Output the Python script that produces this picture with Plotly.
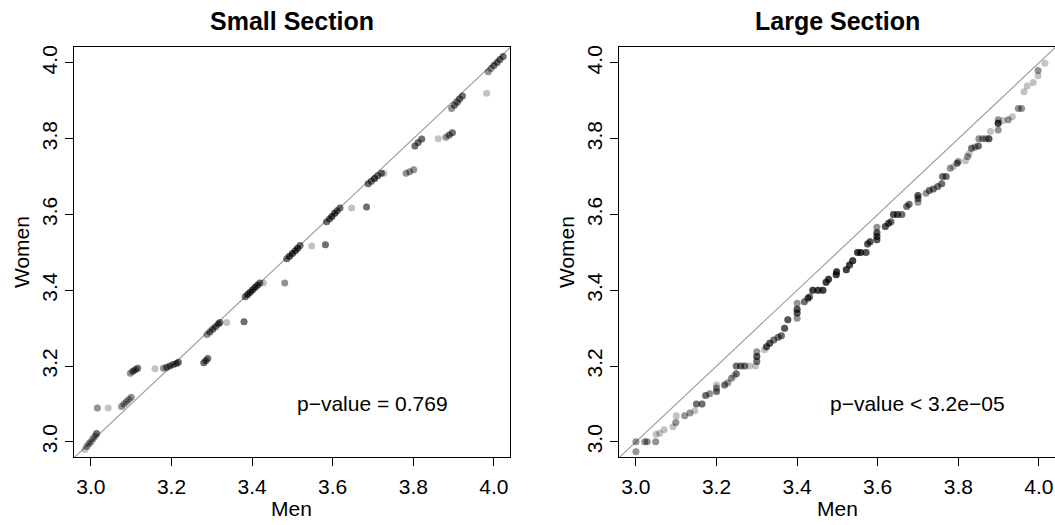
import numpy as np
import plotly.graph_objects as go

# ---------------- data (quantile pairs, with number of tied pairs) ----------------
men_small = [2.985, 2.990, 2.995, 3.000, 3.005, 3.010, 3.014,
             3.016, 3.043,
             3.076, 3.082, 3.088, 3.094, 3.100,
             3.098, 3.104, 3.110, 3.116,
             3.159,
             3.180, 3.188, 3.196, 3.204, 3.212, 3.217,
             3.280, 3.285, 3.290,
             3.288, 3.295, 3.302, 3.309, 3.316, 3.320,
             3.337, 3.380,
             3.383, 3.389, 3.395, 3.401, 3.407, 3.413, 3.419,
             3.428, 3.481,
             3.486, 3.493, 3.500, 3.507, 3.513, 3.519,
             3.548, 3.582,
             3.585, 3.592, 3.598, 3.605, 3.611, 3.618,
             3.647, 3.684,
             3.688, 3.696, 3.704, 3.712, 3.721,
             3.727,
             3.782, 3.791, 3.801,
             3.804, 3.812, 3.821,
             3.862,
             3.881, 3.889, 3.897,
             3.895, 3.902, 3.909, 3.915, 3.922,
             3.982,
             3.986, 3.993, 4.000, 4.008, 4.015, 4.023]
women_small = [2.980, 2.988, 2.995, 3.000, 3.008, 3.015, 3.022,
               3.089, 3.089,
               3.093, 3.100, 3.106, 3.112, 3.118,
               3.181, 3.186, 3.190, 3.194,
               3.193,
               3.194, 3.197, 3.200, 3.204, 3.207, 3.210,
               3.209, 3.214, 3.220,
               3.283, 3.290, 3.297, 3.304, 3.311, 3.315,
               3.315, 3.317,
               3.383, 3.389, 3.395, 3.401, 3.407, 3.413, 3.419,
               3.419, 3.419,
               3.483, 3.490, 3.497, 3.504, 3.511, 3.518,
               3.517, 3.520,
               3.581, 3.588, 3.595, 3.603, 3.610, 3.617,
               3.617, 3.620,
               3.681, 3.688, 3.695, 3.702, 3.709,
               3.709,
               3.709, 3.713, 3.718,
               3.781, 3.790, 3.799,
               3.800,
               3.804, 3.810, 3.816,
               3.880, 3.888, 3.896, 3.905, 3.913,
               3.920,
               3.977, 3.985, 3.993, 4.001, 4.009, 4.017]
n_small = [1, 2, 2, 2, 2, 2, 3,
           2, 1,
           2, 2, 2, 2, 2,
           2, 3, 3, 3,
           1,
           2, 3, 3, 3, 3, 3,
           3, 3, 3,
           2, 3, 3, 3, 3, 3,
           1, 3,
           3, 4, 4, 4, 4, 4, 3,
           1, 2,
           3, 4, 4, 4, 4, 3,
           1, 3,
           3, 3, 4, 4, 3, 3,
           1, 3,
           3, 3, 4, 3, 3,
           1,
           2, 2, 2,
           3, 3, 3,
           1,
           2, 3, 3,
           2, 3, 3, 3, 3,
           1,
           2, 2, 3, 3, 3, 3]

men_large = [3.000, 3.000, 3.022, 3.028, 3.049,
             3.050, 3.059, 3.070, 3.092, 3.099, 3.100,
             3.121, 3.134, 3.146, 3.150, 3.164, 3.173, 3.183,
             3.200, 3.200, 3.200, 3.220, 3.228,
             3.237, 3.243, 3.249, 3.249, 3.260, 3.270, 3.282, 3.297,
             3.300, 3.300, 3.300,
             3.319, 3.324, 3.332, 3.342, 3.353, 3.361,
             3.369, 3.377, 3.400, 3.400, 3.400, 3.400,
             3.418, 3.427, 3.431, 3.439, 3.452, 3.464,
             3.472, 3.478, 3.497, 3.498,
             3.522, 3.530, 3.538, 3.550, 3.558, 3.571,
             3.575, 3.581, 3.598, 3.598, 3.598, 3.598,
             3.619, 3.627, 3.633, 3.639, 3.649, 3.660,
             3.672, 3.678, 3.700, 3.700, 3.700,
             3.720, 3.728, 3.738, 3.749, 3.759, 3.761, 3.770,
             3.780, 3.787, 3.797, 3.800,
             3.818, 3.823, 3.827, 3.833, 3.842, 3.850,
             3.851, 3.860, 3.868, 3.876, 3.880,
             3.899, 3.899, 3.899, 3.911, 3.924, 3.934,
             3.949, 3.957, 3.963, 3.971, 3.986,
             3.998, 3.998, 4.015]
women_large = [2.974, 3.000, 3.000, 3.000, 3.000,
               3.020, 3.023, 3.032, 3.040, 3.051, 3.069,
               3.069, 3.076, 3.082, 3.100, 3.100, 3.122, 3.127,
               3.133, 3.142, 3.150, 3.150, 3.156,
               3.168, 3.174, 3.180, 3.200, 3.200, 3.200, 3.200, 3.200,
               3.212, 3.225, 3.238,
               3.243, 3.251, 3.260, 3.269, 3.276, 3.280,
               3.300, 3.322, 3.326, 3.340, 3.350, 3.366,
               3.370, 3.379, 3.383, 3.400, 3.400, 3.400,
               3.421, 3.429, 3.441, 3.449,
               3.454, 3.467, 3.478, 3.500, 3.500, 3.500,
               3.522, 3.528, 3.533, 3.542, 3.552, 3.566,
               3.568, 3.577, 3.581, 3.600, 3.600, 3.600,
               3.621, 3.627, 3.632, 3.642, 3.650,
               3.656, 3.663, 3.667, 3.674, 3.681, 3.700, 3.700,
               3.722, 3.726, 3.735, 3.740,
               3.742, 3.753, 3.760, 3.775, 3.778, 3.781,
               3.800, 3.800, 3.800, 3.800, 3.819,
               3.823, 3.841, 3.850, 3.848, 3.850, 3.858,
               3.880, 3.880, 3.924, 3.939, 3.948,
               3.966, 3.980, 3.999]
n_large = [2, 2, 2, 2, 2,
           1, 1, 1, 1, 2, 1,
           2, 2, 1, 3, 3, 3, 2,
           3, 2, 1, 3, 2,
           2, 1, 3, 3, 3, 3, 1, 1,
           3, 4, 2,
           1, 4, 4, 3, 3, 3,
           4, 4, 2, 4, 4, 2,
           3, 4, 3, 5, 5, 5,
           5, 5, 5, 5,
           5, 5, 5, 5, 5, 4,
           4, 4, 4, 4, 4, 2,
           4, 4, 3, 4, 4, 3,
           3, 3, 2, 3, 4,
           2, 3, 3, 3, 3, 3, 3,
           2, 1, 3, 2,
           1, 2, 1, 3, 2, 3,
           2, 2, 2, 4, 1,
           2, 5, 2, 1, 2, 1,
           2, 2, 1, 1, 1,
           1, 2, 1]

panel_titles = ["Small Section", "Large Section"]
p_texts = ["p\u2212value = 0.769", "p\u2212value < 3.2e\u221205"]
x_label = "Men"
y_label = "Women"
tick_vals = [3.0, 3.2, 3.4, 3.6, 3.8, 4.0]
tick_text = ["3.0", "3.2", "3.4", "3.6", "3.8", "4.0"]
ref_line = [2.9, 4.1]

# ---------------- figure ----------------
W, H = 1055, 525
FONT = "Liberation Sans, Arial, Helvetica, sans-serif"
fig = go.Figure()

panels = [(men_small, women_small, n_small, "x", "y"),
          (men_large, women_large, n_large, "x2", "y2")]
for mx, wy, cnt, xa, ya in panels:
    fig.add_trace(go.Scatter(x=ref_line, y=ref_line, mode="lines",
                             line=dict(color="#a0a0a0", width=1.2),
                             xaxis=xa, yaxis=ya, showlegend=False, hoverinfo="skip"))
    xs = np.repeat(np.array(mx), cnt)
    ys = np.repeat(np.array(wy), cnt)
    fig.add_trace(go.Scatter(x=xs, y=ys, mode="markers",
                             marker=dict(color="rgba(0,0,0,0.24)", size=7, line=dict(width=0)),
                             xaxis=xa, yaxis=ya, showlegend=False))

axis_common = dict(showgrid=False, zeroline=False, showline=True, linecolor="black",
                   linewidth=1, mirror=True, ticks="outside", ticklen=8, tickwidth=1,
                   tickcolor="black", tickvals=tick_vals, ticktext=tick_text,
                   tickfont=dict(family=FONT, size=21, color="black"), automargin=False)

dl = [74 / W, 510 / W]
dr = [619 / W, 1.0]
fig.update_layout(
    width=W, height=H, margin=dict(l=0, r=0, t=47, b=68, autoexpand=False),
    paper_bgcolor="white", plot_bgcolor="white",
    xaxis=dict(domain=dl, range=[2.958, 4.04], anchor="y", ticklabelstandoff=3, **axis_common),
    yaxis=dict(domain=[0, 1], range=[2.96, 4.042], anchor="x", tickangle=-90, ticklabelstandoff=0, **axis_common),
    xaxis2=dict(domain=dr, range=[2.958, 4.04], anchor="y2", ticklabelstandoff=3, **axis_common),
    yaxis2=dict(domain=[0, 1], range=[2.96, 4.042], anchor="x2", tickangle=-90, ticklabelstandoff=0, **axis_common),
)

ann = []
for i, (xa, ya, dom) in enumerate([("x", "y", dl), ("x2", "y2", [619 / W, 1056 / W])]):
    cx = (dom[0] + dom[1]) / 2
    ann.append(dict(text="<b>%s</b>" % panel_titles[i], x=cx, y=(457 - 21) / 410,
                    xref="paper", yref="paper", showarrow=False, xanchor="center", yanchor="middle",
                    font=dict(family=FONT, size=25, color="black")))
    ann.append(dict(text=x_label, x=cx, y=(457 - 508) / 410, xref="paper", yref="paper",
                    showarrow=False, xanchor="center", yanchor="middle",
                    font=dict(family=FONT, size=21, color="black")))
    ann.append(dict(text=y_label, x=(dom[0] * W - 53) / W, y=0.5, xref="paper", yref="paper",
                    showarrow=False, xanchor="center", yanchor="middle", textangle=-90,
                    font=dict(family=FONT, size=21, color="black")))
    ann.append(dict(text=p_texts[i], x=3.7, y=3.1, xref=xa, yref=ya, showarrow=False,
                    xanchor="center", yanchor="middle",
                    font=dict(family=FONT, size=21, color="black")))
fig.update_layout(annotations=ann)

fig.write_html("out.html", config={"displayModeBar": False},
               post_script="document.body.style.margin='0';document.body.style.overflow='hidden';")
